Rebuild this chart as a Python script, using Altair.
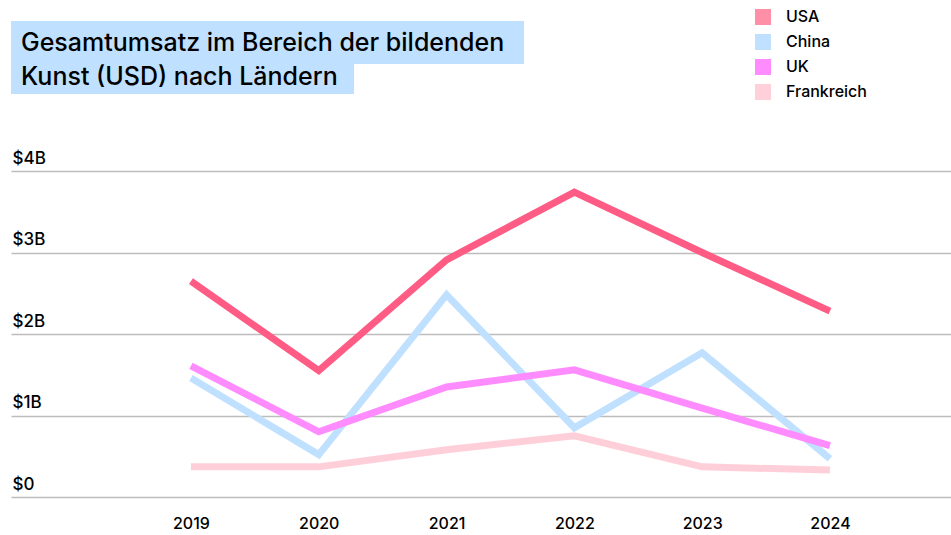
import altair as alt
import pandas as pd

years = [2019, 2020, 2021, 2022, 2023, 2024]
countries = ["USA", "China", "UK", "Frankreich"]
usa = [2.65, 1.55, 2.91, 3.74, 3.00, 2.28]
china = [1.46, 0.52, 2.48, 0.85, 1.77, 0.47]
uk = [1.61, 0.80, 1.35, 1.56, 1.09, 0.63]
frankreich = [0.37, 0.37, 0.58, 0.75, 0.37, 0.33]
title_lines = ["Gesamtumsatz im Bereich der bildenden", "Kunst (USD) nach Ländern"]

line_colors = ["#ff5c85", "#bfe1ff", "#ff8cff", "#ffcfd9"]
legend_colors = ["#ff8fa6", "#bfe1ff", "#ff8cff", "#ffd0da"]
widths = [7, 7, 7, 10]

series = {"USA": usa, "China": china, "UK": uk, "Frankreich": frankreich}
rows = []
for c in ["Frankreich", "China", "UK", "USA"]:
    for y, v in zip(years, series[c]):
        rows.append({"Land": c, "Jahr": y, "Umsatz": v})
df = pd.DataFrame(rows)

FONT = "Inter"

x_enc = alt.X("Jahr:Q", scale=alt.Scale(domain=[2017.592, 2024.947], nice=False, zero=False),
              axis=alt.Axis(values=years, format="d", title=None, grid=False, domain=False,
                            ticks=False, labelPadding=18, labelFontSize=16, labelFont=FONT,
                            labelFontWeight=500, labelColor="#000", labelBaseline="top"))
y_enc = alt.Y("Umsatz:Q", scale=alt.Scale(domain=[0, 4], nice=False),
              axis=alt.Axis(values=[0, 1, 2, 3, 4], title=None, domain=False, ticks=False,
                            tickSize=0, labelPadding=-1, labelAlign="left", labelBaseline="alphabetic",
                            labelOffset=-8, labelFontSize=17, labelFont=FONT,
                            labelFontWeight=500, labelColor="#000",
                            labelExpr="datum.value == 0 ? '$0' : '$' + datum.value + 'B'",
                            grid=True, gridColor="#bdbdbd", gridWidth=1.5))

lines = alt.Chart(df).mark_line().encode(
    x=x_enc,
    y=y_enc,
    stroke=alt.Stroke("Land:N", scale=alt.Scale(domain=countries, range=line_colors), legend=None),
    size=alt.Size("Land:N", scale=alt.Scale(domain=countries, range=widths), legend=None),
)

legend_pts = alt.Chart(df).mark_point(filled=True, shape="square", opacity=0).encode(
    x="Jahr:Q",
    y="Umsatz:Q",
    color=alt.Color("Land:N", scale=alt.Scale(domain=countries, range=legend_colors),
                    legend=alt.Legend(title=None, orient="none", legendX=744, legendY=-162,
                                      symbolType="square", symbolSize=256, symbolOpacity=1,
                                      symbolStrokeWidth=0, labelFontSize=16, labelFont=FONT,
                                      labelFontWeight=500, labelColor="#000", labelOffset=15,
                                      rowPadding=9, padding=0)),
)

one = pd.DataFrame({"t": [0]})
box1 = alt.Chart(one).mark_rect(color="#bfe1ff").encode(
    x=alt.value(0), x2=alt.value(513), y=alt.value(-150), y2=alt.value(-107))
box2 = alt.Chart(one).mark_rect(color="#bfe1ff").encode(
    x=alt.value(0), x2=alt.value(343), y=alt.value(-107), y2=alt.value(-77))
t1 = alt.Chart(pd.DataFrame({"t": [title_lines[0]]})).mark_text(
    align="left", baseline="alphabetic", fontSize=25, font=FONT, fontWeight=500, color="#000"
).encode(x=alt.value(10), y=alt.value(-120), text="t:N")
t2 = alt.Chart(pd.DataFrame({"t": [title_lines[1]]})).mark_text(
    align="left", baseline="alphabetic", fontSize=25, font=FONT, fontWeight=500, color="#000"
).encode(x=alt.value(10), y=alt.value(-86), text="t:N")

chart = alt.layer(box1, box2, t1, t2, lines, legend_pts).resolve_scale(
    color="independent", stroke="independent", size="independent"
).properties(
    width=940, height=326,
    autosize=alt.AutoSizeParams(type="none"),
    padding={"left": 11, "top": 171, "right": 0, "bottom": 38},
    background="white",
).configure_view(stroke=None)

chart.save("out.html", embed_options={"renderer": "svg", "actions": False})
